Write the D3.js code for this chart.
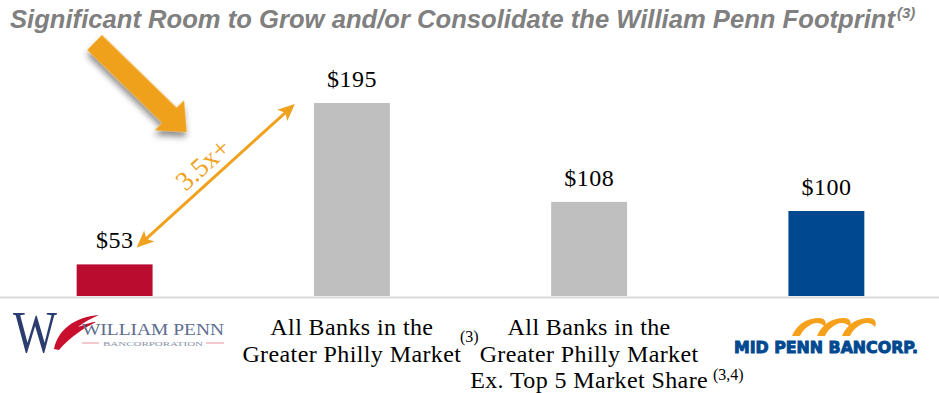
<!DOCTYPE html>
<html>
<head>
<meta charset="utf-8">
<script src="https://cdn.jsdelivr.net/npm/d3@7"></script>
<style>
  body { margin: 0; background: #fff; }
  svg { display: block; }
</style>
</head>
<body>
<div id="chart"></div>
<script>
/* Data */
/* ==== */

var categories = ["William Penn", "Greater Philly", "Greater Philly ex Top 5", "Mid Penn"];
var values = [53, 195, 108, 100];
var valueLabels = ["$53", "$195", "$108", "$100"];
var categoryLines = [
  [],
  ["All Banks in the", "Greater Philly Market"],
  ["All Banks in the", "Greater Philly Market", "Ex. Top 5 Market Share"],
  []
];
var footnotes = ["", "(3)", "(3,4)", ""];
var titleText = "Significant Room to Grow and/or Consolidate the William Penn Footprint";
var titleNote = "(3)";
var multipleText = "3.5x+";

var width = 939,
    height = 393,
    baseline = 296;

var orange = "#f0a11e";

var svg = d3.select("#chart").append("svg")
    .attr("width", width)
    .attr("height", height);

var defs = svg.append("defs");
defs.append("filter")
    .attr("id", "shadow")
    .attr("x", "-20%").attr("y", "-20%")
    .attr("width", "150%").attr("height", "150%")
  .append("feDropShadow")
    .attr("dx", 3).attr("dy", 4)
    .attr("stdDeviation", 3)
    .attr("flood-color", "#000")
    .attr("flood-opacity", 0.45);

// scales
var x = d3.scaleBand()
    .domain(categories)
    .range([-4, 945])
    .paddingInner(0.68)
    .paddingOuter(0.34);

// the source chart's bars are not zero based
var y = d3.scaleLinear()
    .domain([25.2, 195])
    .range([baseline, 103]);

var colour = d3.scaleOrdinal()
    .domain(categories)
    .range(["#ba0c2f", "#bfbfbf", "#bfbfbf", "#004990"]);

function cx(c) { return x(c) + x.bandwidth() / 2; }

// title
svg.append("text")
    .attr("x", 10)
    .attr("y", 28)
    .attr("textLength", 885)
    .attr("lengthAdjust", "spacingAndGlyphs")
    .style("font-family", "'Liberation Sans Narrow', 'Liberation Sans', sans-serif")
    .style("font-style", "italic")
    .style("font-weight", "bold")
    .style("font-size", "25px")
    .style("fill", "#808080")
    .text(titleText);

svg.append("text")
    .attr("x", 897)
    .attr("y", 18)
    .style("font-family", "'Liberation Sans Narrow', 'Liberation Sans', sans-serif")
    .style("font-style", "italic")
    .style("font-weight", "bold")
    .style("font-size", "15px")
    .style("fill", "#808080")
    .text(titleNote);

// baseline rule
svg.append("line")
    .attr("x1", 0).attr("x2", width)
    .attr("y1", baseline + 1.5).attr("y2", baseline + 1.5)
    .attr("stroke", "#d9d9d9")
    .attr("stroke-width", 2);

// bars
svg.selectAll("rect.bar")
    .data(values)
  .enter().append("rect")
    .attr("class", "bar")
    .attr("x", function(d, i) { return x(categories[i]); })
    .attr("y", function(d) { return y(d); })
    .attr("width", x.bandwidth())
    .attr("height", function(d) { return baseline - y(d); })
    .attr("fill", function(d, i) { return colour(categories[i]); });

// value labels
svg.selectAll("text.value")
    .data(values)
  .enter().append("text")
    .attr("class", "value")
    .attr("x", function(d, i) { return cx(categories[i]); })
    .attr("y", function(d) { return y(d) - 16; })
    .attr("text-anchor", "middle")
    .style("font-family", "'Liberation Serif', serif")
    .style("font-size", "24px")
    .style("letter-spacing", "0.5px")
    .style("fill", "#000")
    .text(function(d, i) { return valueLabels[i]; });

// category labels
categoryLines.forEach(function(lines, i) {
  var g = svg.append("text")
      .attr("text-anchor", "middle")
      .style("font-family", "'Liberation Serif', serif")
      .style("font-size", "24px")
      .style("letter-spacing", "0.4px")
      .style("fill", "#000");
  lines.forEach(function(line, j) {
    g.append("tspan")
      .attr("x", cx(categories[i]))
      .attr("y", 335 + j * 26.5)
      .text(line);
  });
});

svg.append("text")
    .attr("x", 460).attr("y", 342)
    .style("font-family", "'Liberation Serif', serif")
    .style("font-size", "16px")
    .text(footnotes[1]);

svg.append("text")
    .attr("x", 713).attr("y", 380)
    .style("font-family", "'Liberation Serif', serif")
    .style("font-size", "16px")
    .text(footnotes[2]);

// big orange pointer arrow
var bx0 = cx(categories[0]) - 20, by0 = 42.5,
    bx1 = cx(categories[0]) + 72, by1 = 132;
var blen = Math.hypot(bx1 - bx0, by1 - by0),
    bang = Math.atan2(by1 - by0, bx1 - bx0) * 180 / Math.PI;
var head = 24, hw = 21, sw = 10.5;
svg.append("path")
    .attr("d", d3.line()([
      [0, -sw], [blen - head, -sw], [blen - head, -hw], [blen, 0],
      [blen - head, hw], [blen - head, sw], [0, sw]
    ]) + "Z")
    .attr("transform", "translate(" + bx0 + "," + by0 + ") rotate(" + bang + ")")
    .attr("fill", orange)
    .attr("filter", "url(#shadow)");

// double headed arrow between the two bars
var ax0 = cx(categories[0]) + 22, ay0 = y(values[0]) - 17,
    ax1 = cx(categories[1]) - 57, ay1 = y(values[1]) + 1;
var alen = Math.hypot(ax1 - ax0, ay1 - ay0),
    aang = Math.atan2(ay1 - ay0, ax1 - ax0) * 180 / Math.PI;
var ga = svg.append("g")
    .attr("transform", "translate(" + ax0 + "," + ay0 + ") rotate(" + aang + ")");
ga.append("line")
    .attr("x1", 12).attr("x2", alen - 12)
    .attr("y1", 0).attr("y2", 0)
    .attr("stroke", orange)
    .attr("stroke-width", 3);
ga.append("path")
    .attr("d", "M0,0 L17,-7.5 L13,0 L17,7.5 Z")
    .attr("fill", orange);
ga.append("path")
    .attr("d", "M" + alen + ",0 L" + (alen - 17) + ",-7.5 L" + (alen - 13) + ",0 L" + (alen - 17) + ",7.5 Z")
    .attr("fill", orange);
ga.append("text")
    .attr("x", alen / 2 - 2)
    .attr("y", -8)
    .attr("text-anchor", "middle")
    .style("font-family", "'Liberation Serif', serif")
    .style("font-size", "27px")
    .style("fill", orange)
    .text(multipleText);

// William Penn logo
var wp = svg.append("g");
wp.append("text")
    .attr("x", 13).attr("y", 352)
    .attr("textLength", 44)
    .attr("lengthAdjust", "spacingAndGlyphs")
    .style("font-family", "'Liberation Serif', serif")
    .style("font-size", "60px")
    .style("fill", "#2b3d6e")
    .text("W");
wp.append("path")
    .attr("d", "M54,349 C58,330 74,317 99,315 C92,318 84,322 78,327 C86,324 92,322 96,322 C84,328 70,337 59,350 Z")
    .attr("fill", "#c8102e");
wp.append("text")
    .attr("x", 82).attr("y", 335)
    .attr("textLength", 142)
    .attr("lengthAdjust", "spacingAndGlyphs")
    .style("font-family", "'Liberation Serif', serif")
    .style("font-size", "17px")
    .style("fill", "#5d6d8f")
    .text("WILLIAM PENN");
wp.append("line")
    .attr("x1", 82).attr("x2", 99).attr("y1", 343).attr("y2", 343)
    .attr("stroke", "#e8a5ae").attr("stroke-width", 1.2);
wp.append("line")
    .attr("x1", 206).attr("x2", 224).attr("y1", 343).attr("y2", 343)
    .attr("stroke", "#e8a5ae").attr("stroke-width", 1.2);
wp.append("text")
    .attr("x", 103).attr("y", 346)
    .attr("textLength", 100)
    .attr("lengthAdjust", "spacingAndGlyphs")
    .style("font-family", "'Liberation Serif', serif")
    .style("font-size", "7px")
    .style("fill", "#8a93aa")
    .text("BANCORPORATION");

// Mid Penn logo
var mp = svg.append("g");
[0, 1, 2].forEach(function(i) {
  var x0 = 792 + i * 25;
  mp.append("path")
    .attr("d", "M" + x0 + ",336 C" + (x0 + 5) + ",324 " + (x0 + 15) + ",318 " + (x0 + 27) + ",318"
      + " C" + (x0 + 33) + ",318 " + (x0 + 35) + ",322 " + (x0 + 33) + ",327"
      + " C" + (x0 + 30) + ",323 " + (x0 + 25) + ",322 " + (x0 + 20) + ",324"
      + " C" + (x0 + 14) + ",327 " + (x0 + 10) + ",331 " + (x0 + 8) + ",336 Z")
    .attr("fill", "#f5a11c");
});
mp.append("text")
    .attr("x", 734).attr("y", 353)
    .attr("textLength", 184)
    .attr("lengthAdjust", "spacingAndGlyphs")
    .style("font-family", "'DejaVu Sans', sans-serif")
    .style("font-weight", "bold")
    .style("font-size", "16.5px")
    .style("fill", "#004990")
    .style("stroke", "#004990")
    .style("stroke-width", 1)
    .text("MID PENN BANCORP.");
</script>
</body>
</html>
